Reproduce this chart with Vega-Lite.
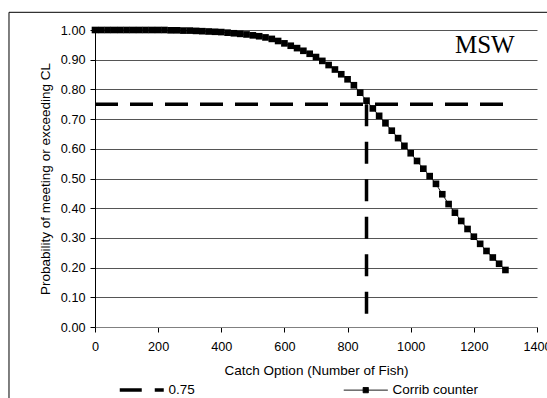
{
  "$schema": "https://vega.github.io/schema/vega-lite/v6.json",
  "width": 442,
  "height": 297,
  "autosize": {"type": "none"},
  "padding": {"left": 95, "top": 30, "right": 10, "bottom": 71},
  "background": "white",
  "config": {
    "view": {"stroke": null},
    "font": "Liberation Sans",
    "axis": {"labelFont": "Liberation Sans", "titleFont": "Liberation Sans", "labelColor": "black", "titleColor": "black", "titleFontWeight": "normal", "labelFontSize": 12.7, "titleFontSize": 13.5, "tickColor": "black", "tickSize": 5}
  },
  "datasets": {
    "curve": [
      {"x": 0, "y": 1.0, "series": "Corrib counter"},
      {"x": 20, "y": 1.0, "series": "Corrib counter"},
      {"x": 40, "y": 1.0, "series": "Corrib counter"},
      {"x": 60, "y": 1.0, "series": "Corrib counter"},
      {"x": 80, "y": 1.0, "series": "Corrib counter"},
      {"x": 100, "y": 1.0, "series": "Corrib counter"},
      {"x": 120, "y": 1.0, "series": "Corrib counter"},
      {"x": 140, "y": 1.0, "series": "Corrib counter"},
      {"x": 160, "y": 1.0, "series": "Corrib counter"},
      {"x": 180, "y": 1.0, "series": "Corrib counter"},
      {"x": 200, "y": 1.0, "series": "Corrib counter"},
      {"x": 220, "y": 1.0, "series": "Corrib counter"},
      {"x": 240, "y": 0.999, "series": "Corrib counter"},
      {"x": 260, "y": 0.999, "series": "Corrib counter"},
      {"x": 280, "y": 0.998, "series": "Corrib counter"},
      {"x": 300, "y": 0.998, "series": "Corrib counter"},
      {"x": 320, "y": 0.997, "series": "Corrib counter"},
      {"x": 340, "y": 0.996, "series": "Corrib counter"},
      {"x": 360, "y": 0.995, "series": "Corrib counter"},
      {"x": 380, "y": 0.994, "series": "Corrib counter"},
      {"x": 400, "y": 0.993, "series": "Corrib counter"},
      {"x": 420, "y": 0.991, "series": "Corrib counter"},
      {"x": 440, "y": 0.989, "series": "Corrib counter"},
      {"x": 460, "y": 0.987, "series": "Corrib counter"},
      {"x": 480, "y": 0.985, "series": "Corrib counter"},
      {"x": 500, "y": 0.982, "series": "Corrib counter"},
      {"x": 520, "y": 0.979, "series": "Corrib counter"},
      {"x": 540, "y": 0.975, "series": "Corrib counter"},
      {"x": 560, "y": 0.970, "series": "Corrib counter"},
      {"x": 580, "y": 0.963, "series": "Corrib counter"},
      {"x": 600, "y": 0.955, "series": "Corrib counter"},
      {"x": 620, "y": 0.947, "series": "Corrib counter"},
      {"x": 640, "y": 0.939, "series": "Corrib counter"},
      {"x": 660, "y": 0.930, "series": "Corrib counter"},
      {"x": 680, "y": 0.920, "series": "Corrib counter"},
      {"x": 700, "y": 0.909, "series": "Corrib counter"},
      {"x": 720, "y": 0.896, "series": "Corrib counter"},
      {"x": 740, "y": 0.882, "series": "Corrib counter"},
      {"x": 760, "y": 0.867, "series": "Corrib counter"},
      {"x": 780, "y": 0.851, "series": "Corrib counter"},
      {"x": 800, "y": 0.834, "series": "Corrib counter"},
      {"x": 820, "y": 0.814, "series": "Corrib counter"},
      {"x": 840, "y": 0.789, "series": "Corrib counter"},
      {"x": 860, "y": 0.762, "series": "Corrib counter"},
      {"x": 880, "y": 0.736, "series": "Corrib counter"},
      {"x": 900, "y": 0.711, "series": "Corrib counter"},
      {"x": 920, "y": 0.686, "series": "Corrib counter"},
      {"x": 940, "y": 0.661, "series": "Corrib counter"},
      {"x": 960, "y": 0.636, "series": "Corrib counter"},
      {"x": 980, "y": 0.610, "series": "Corrib counter"},
      {"x": 1000, "y": 0.585, "series": "Corrib counter"},
      {"x": 1020, "y": 0.559, "series": "Corrib counter"},
      {"x": 1040, "y": 0.533, "series": "Corrib counter"},
      {"x": 1060, "y": 0.508, "series": "Corrib counter"},
      {"x": 1080, "y": 0.482, "series": "Corrib counter"},
      {"x": 1100, "y": 0.447, "series": "Corrib counter"},
      {"x": 1120, "y": 0.414, "series": "Corrib counter"},
      {"x": 1140, "y": 0.385, "series": "Corrib counter"},
      {"x": 1160, "y": 0.357, "series": "Corrib counter"},
      {"x": 1180, "y": 0.330, "series": "Corrib counter"},
      {"x": 1200, "y": 0.304, "series": "Corrib counter"},
      {"x": 1220, "y": 0.280, "series": "Corrib counter"},
      {"x": 1240, "y": 0.256, "series": "Corrib counter"},
      {"x": 1260, "y": 0.234, "series": "Corrib counter"},
      {"x": 1280, "y": 0.213, "series": "Corrib counter"},
      {"x": 1300, "y": 0.192, "series": "Corrib counter"}
    ],
    "hline": [
      {"x": 0, "y": 0.75},
      {"x": 1300, "y": 0.75}
    ],
    "vline": [
      {"x": 860, "y": 0.75},
      {"x": 860, "y": 0}
    ],
    "frame": [
      {"x": -272.4, "x2": 1520, "y": 1.0596, "y2": -0.35}
    ],
    "note": [
      {"x": 1140, "y": 0.9215, "label": "MSW"}
    ]
  },
  "encoding": {
    "x": {
      "field": "x", "type": "quantitative",
      "scale": {"domain": [0, 1400], "nice": false, "zero": false},
      "axis": {
        "title": "Catch Option (Number of Fish)",
        "values": [0, 200, 400, 600, 800, 1000, 1200, 1400],
        "format": "d",
        "labelFlush": false,
        "labelOverlap": false,
        "grid": false,
        "domainColor": "#808080",
        "labelPadding": 8,
        "titleY": 47,
        "titleBaseline": "alphabetic"
      }
    },
    "y": {
      "field": "y", "type": "quantitative",
      "scale": {"domain": [0, 1], "nice": false, "zero": false},
      "axis": {
        "title": "Probability of meeting or exceeding CL",
        "values": [0, 0.1, 0.2, 0.3, 0.4, 0.5, 0.6, 0.7, 0.8, 0.9, 1.0],
        "format": ".2f",
        "labelFlush": false,
        "grid": true,
        "gridColor": "#555555",
        "gridWidth": 1,
        "domainColor": "black",
        "labelPadding": 5,
        "titleX": -46,
        "titleY": 148.5,
        "titleAngle": -90,
        "titleAlign": "center",
        "titleBaseline": "alphabetic"
      }
    }
  },
  "layer": [
    {
      "data": {"name": "frame"},
      "mark": {"type": "rect", "fill": null, "stroke": "black", "strokeWidth": 1, "clip": false},
      "encoding": {"x2": {"field": "x2"}, "y2": {"field": "y2"}}
    },
    {
      "data": {"name": "hline"},
      "mark": {"type": "line", "color": "black", "strokeWidth": 3.5, "strokeDash": [23, 12], "strokeCap": "butt"},
      "encoding": {}
    },
    {
      "data": {"name": "vline"},
      "mark": {"type": "line", "color": "black", "strokeWidth": 3.5, "strokeDash": [22, 15.5], "strokeCap": "butt"},
      "encoding": {}
    },
    {
      "data": {"name": "curve"},
      "mark": {"type": "line", "color": "black", "strokeWidth": 1, "point": {"shape": "square", "filled": true, "size": 44, "color": "black", "opacity": 1}},
      "encoding": {
        "strokeDash": {
          "field": "series", "type": "nominal",
          "scale": {"domain": ["0.75", "Corrib counter"], "range": [[22, 13], [1, 0]]},
          "legend": {
            "title": null,
            "orient": "none",
            "direction": "horizontal",
            "legendX": 40,
            "legendY": 353,
            "columnPadding": 146,
            "labelFont": "Liberation Sans",
            "labelFontSize": 13.5,
            "labelColor": "black",
            "labelOffset": 20,
            "symbolSize": 1936,
            "symbolStrokeColor": "black",
            "encode": {
              "symbols": {
                "update": {
                  "shape": {"signal": "datum.value === '0.75' ? 'M-1,0H1' : 'M-1,0H1M-0.12,-0.12H0.12V0.12H-0.12Z'"},
                  "strokeWidth": {"signal": "datum.value === '0.75' ? 3.5 : 1"},
                  "stroke": {"value": "black"},
                  "fill": {"value": "black"},
                  "opacity": {"value": 1}
                }
              }
            }
          }
        }
      }
    },
    {
      "data": {"name": "note"},
      "mark": {"type": "text", "font": "Liberation Serif", "fontSize": 25, "align": "left", "baseline": "alphabetic", "color": "black"},
      "encoding": {"text": {"field": "label"}}
    }
  ]
}
